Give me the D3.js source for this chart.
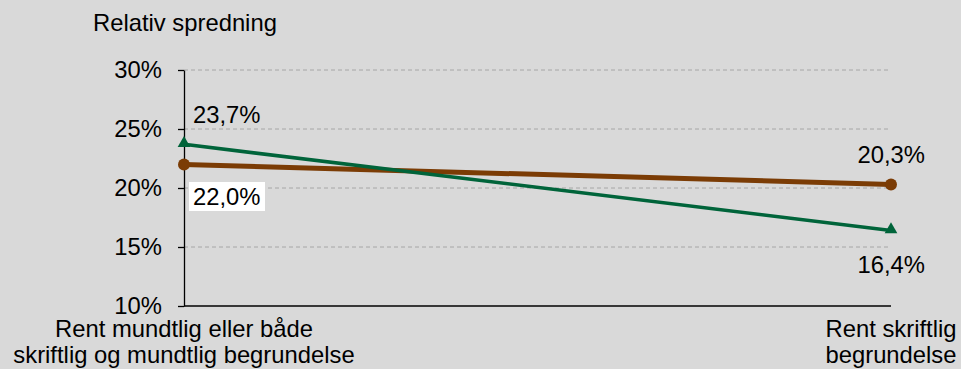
<!DOCTYPE html>
<html>
<head>
<meta charset="utf-8">
<script src="https://cdn.jsdelivr.net/npm/d3@7"></script>
<style>
  html, body { margin: 0; padding: 0; background: #d9d9d9; }
  svg { display: block; font-family: "Liberation Sans", Arial, sans-serif; }
</style>
</head>
<body>
<svg id="chart" width="961" height="369"></svg>
<script>
const categories = [
  ["Rent mundtlig eller både", "skriftlig og mundtlig begrundelse"],
  ["Rent skriftlig", "begrundelse"]
];
const brownValues = [22.0, 20.3];
const greenValues = [23.7, 16.4];
const yTicks = [10, 15, 20, 25, 30];
const yTitle = "Relativ spredning";

const FS = 23.8;
const svg = d3.select("#chart");
const fmt = v => d3.format(".1f")(v).replace(".", ",") + "%";

const x = d3.scalePoint().domain([0, 1]).range([184, 891]);
const y = d3.scaleLinear().domain([10, 30]).range([306, 70]);

// gridlines
svg.append("g").selectAll("line").data(yTicks.filter(t => t > 10)).join("line")
  .attr("x1", 184).attr("x2", 891)
  .attr("y1", d => y(d)).attr("y2", d => y(d))
  .attr("stroke", "#a6a6a6").attr("stroke-width", 1)
  .attr("stroke-dasharray", "4,3");

// y axis
const yAxis = svg.append("g").attr("transform", "translate(184,0)")
  .call(d3.axisLeft(y).tickValues(yTicks).tickFormat(d => d + "%").tickSize(6).tickSizeOuter(0));
yAxis.select(".domain").attr("stroke", "#000").attr("stroke-width", 1.3);
yAxis.selectAll(".tick line").attr("stroke", "#000").attr("stroke-width", 1.3);
yAxis.selectAll(".tick text").attr("font-size", FS).attr("fill", "#000")
  .attr("x", -22).attr("font-family", "Liberation Sans, Arial, sans-serif");

// x axis baseline
svg.append("line").attr("x1", 184).attr("x2", 891).attr("y1", y(10)).attr("y2", y(10))
  .attr("stroke", "#000").attr("stroke-width", 1.5);

// y title
svg.append("text").attr("x", 93).attr("y", 31).attr("font-size", FS).attr("fill", "#000").text(yTitle);

// category labels
categories.forEach((lines, i) => {
  const t = svg.append("text").attr("text-anchor", "middle").attr("font-size", FS).attr("fill", "#000");
  lines.forEach((l, j) => {
    t.append("tspan").attr("x", x(i)).attr("y", 337 + j * 26).text(l);
  });
});

const line = d3.line().x((d, i) => x(i)).y(d => y(d));

// brown series
svg.append("path").datum(brownValues).attr("d", line)
  .attr("fill", "none").attr("stroke", "#7b3c05").attr("stroke-width", 5);
svg.append("g").selectAll("circle").data(brownValues).join("circle")
  .attr("cx", (d, i) => x(i)).attr("cy", d => y(d)).attr("r", 6).attr("fill", "#7b3c05");

// green series
svg.append("path").datum(greenValues).attr("d", line)
  .attr("fill", "none").attr("stroke", "#00643a").attr("stroke-width", 3.5);
svg.append("g").selectAll("path").data(greenValues).join("path")
  .attr("d", d3.symbol().type(d3.symbolTriangle).size(70))
  .attr("transform", (d, i) => `translate(${x(i)},${y(d) - 1})`)
  .attr("fill", "#00643a");

// value labels
svg.append("text").attr("x", 193).attr("y", y(greenValues[0]) - 21).attr("font-size", FS).text(fmt(greenValues[0]));
svg.append("rect").attr("x", 189).attr("y", 182).attr("width", 76).attr("height", 29).attr("fill", "#fff");
svg.append("text").attr("x", 193).attr("y", y(brownValues[0]) + 41).attr("font-size", FS).text(fmt(brownValues[0]));
svg.append("text").attr("x", 925).attr("y", y(brownValues[1]) - 21).attr("text-anchor", "end").attr("font-size", FS).text(fmt(brownValues[1]));
svg.append("text").attr("x", 925).attr("y", y(greenValues[1]) + 43).attr("text-anchor", "end").attr("font-size", FS).text(fmt(greenValues[1]));
</script>
</body>
</html>
